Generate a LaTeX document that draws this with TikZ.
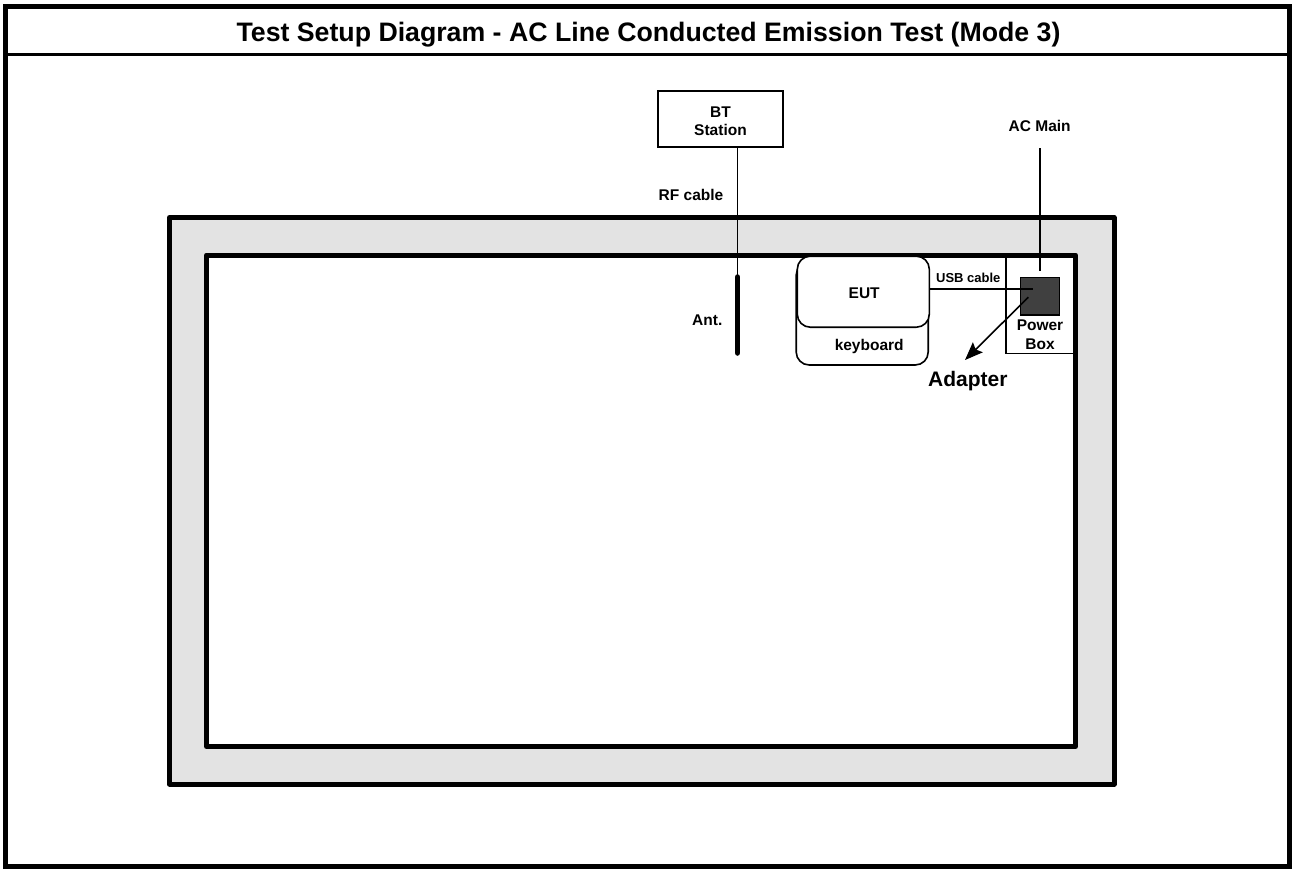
\documentclass[tikz,border=0pt]{standalone}
\usepackage{fontspec}
\setmainfont{Liberation Sans}
\usetikzlibrary{arrows.meta}
\definecolor{benchgray}{HTML}{E3E3E3}
\definecolor{boxdark}{HTML}{404040}
\tikzset{
  lbl/.style={inner sep=0pt, anchor=base, font=\fontsize{15.5}{17}\selectfont\bfseries},
  smalllbl/.style={inner sep=0pt, anchor=base, font=\fontsize{13}{15}\selectfont\bfseries},
  biglbl/.style={inner sep=0pt, anchor=base, font=\fontsize{21}{24}\selectfont\bfseries},
  titlelbl/.style={inner sep=0pt, anchor=base, font=\fontsize{26.7}{30}\selectfont\bfseries},
  thinline/.style={line width=1.6pt},
  thickframe/.style={line width=5pt, line join=round},
  roundbox/.style={draw, thinline, rounded corners=13pt, fill=white}
}
\begin{document}
\begin{tikzpicture}[x=1pt,y=-1pt]
\useasboundingbox (0,0) rectangle (1292,868);
% outer frame and title band
\draw[line width=5pt] (5.5,6) rectangle (1289.5,866.5);
\draw[line width=2.5pt] (3,54.5) -- (1289.5,54.5);
\node[titlelbl] (title) at (648.5,41) {Test Setup Diagram - AC Line Conducted Emission Test (Mode 3)};

% ground plane / table
\draw[thickframe, fill=benchgray] (169.5,217.5) rectangle (1114,784);
\draw[thickframe, fill=white] (206.5,255) rectangle (1075.5,746.5);

% power box outline
\draw[thinline] (1006,256) -- (1006,353.3) -- (1075,353.3);

% BT station
\node[draw, thinline, minimum width=125pt, minimum height=56pt, inner sep=0pt] (bt) at (720.5,119) {};
\node[lbl] (btl1) at (720.5,117) {BT};
\node[lbl] (btl2) at (720.5,135) {Station};
\node[lbl] (rf) at (691,200.7) {RF cable};

% antenna
\coordinate (antTop) at (737.5,277);
\coordinate (antBot) at (737.5,353);
\draw[thinline] (bt.south -| antTop) -- (antTop);
\draw[line width=5.5pt, line cap=round] (antTop) -- (antBot);
\node[lbl] (ant) at (707.3,325) {Ant.};

% keyboard and EUT
\node[roundbox, minimum width=132pt, minimum height=103pt, inner sep=0pt] (kb) at (862.2,313.5) {};
\node[lbl] (kbl) at (869.2,350) {keyboard};
\node[roundbox, minimum width=132pt, minimum height=71pt, inner sep=0pt] (eut) at (863.3,291.7) {};
\node[lbl] (eutl) at (864.2,298.3) {EUT};

% power box
\node[draw, line width=1.2pt, fill=boxdark, minimum width=39pt, minimum height=37.7pt, inner sep=0pt] (pwr) at (1040.3,296.2) {};
\node[lbl] (pwl1) at (1040,330) {Power};
\node[lbl] (pwl2) at (1040,349) {Box};

% AC main
\node[lbl] (acm) at (1039.7,131.7) {AC Main};
\coordinate (acTop) at (1040,148);
\coordinate (acBot) at (1040,270.7);
\draw[thinline] (acTop) -- (acBot);

% USB cable
\coordinate (usbEnd) at (1033,289);
\draw[thinline] (eut.east |- usbEnd) -- (usbEnd);
\node[smalllbl] (usb) at (968.3,282) {USB cable};

% adapter arrow
\coordinate (adStart) at (1028.3,297.3);
\coordinate (adTip) at (965,360);
\draw[thinline, -{Stealth[length=18pt,width=14pt,inset=3pt]}] (adStart) -- (adTip);
\node[biglbl] (adl) at (967.8,386.7) {Adapter};
\end{tikzpicture}
\end{document}
